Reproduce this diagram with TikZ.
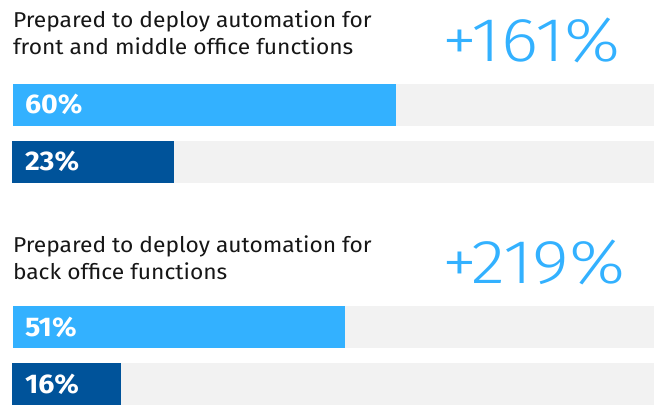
\documentclass[tikz,border=0pt]{standalone}
\usepackage{fontspec}
\setmainfont[FakeStretch=1.06]{Fira Sans}
\newfontfamily\lightnum[FakeStretch=1.14]{Fira Sans Light}
\usetikzlibrary{positioning}

\definecolor{barcyan}{HTML}{33B1FF}
\definecolor{bardark}{HTML}{00539A}
\definecolor{trackgray}{HTML}{F2F2F2}
\definecolor{inkgray}{HTML}{161616}

\begin{document}
\begin{tikzpicture}[x=1pt, y=-1pt,
  every node/.style={inner sep=0pt, outer sep=0pt},
  track/.style ={fill=trackgray, anchor=north west,
                 minimum width=641pt, minimum height=42pt},
  bar/.style   ={anchor=north west, minimum height=42pt},
  barlbl/.style={anchor=west, text=white,
                 font=\fontsize{27}{27}\selectfont\bfseries},
  head/.style  ={anchor=base west, align=left, text=inkgray,
                 font=\fontsize{21.5}{27}\selectfont},
  gain/.style  ={anchor=base west, text=barcyan,
                 font=\fontsize{62}{62}\selectfont\lightnum}]
\useasboundingbox (0,0) rectangle (654,405);

%% ── Block 1: front and middle office ────────────────────────────
% base of a two-line node sits on its last line
\node[head] (headfront) at (13,54.3)
  {Prepared to deploy automation for\\front and middle office functions};
\node[gain] (gainfront) at (442,61) {+161\%};

\node[track] (trackA) at (13,83.5) {};
\node[bar, fill=barcyan, minimum width=383pt] (barA) at (13,83.5) {};
\node[barlbl] (lblA) at ([xshift=12pt]barA.west) {60\%};

\node[track] (trackB) at (13,140.5) {};
\node[bar, fill=bardark, minimum width=162pt] (barB) at (12,140.5) {};
\node[barlbl] (lblB) at ([xshift=13pt]barB.west) {23\%};

%% ── Block 2: back office ────────────────────────────────────────
\node[head] (headback) at (13,279.3)
  {Prepared to deploy automation for\\back office functions};
\node[gain] (gainback) at (442,283) {+219\%};

\node[track] (trackC) at (13,306) {};
\node[bar, fill=barcyan, minimum width=332pt] (barC) at (13,306) {};
\node[barlbl] (lblC) at ([xshift=12pt]barC.west) {51\%};

\node[track] (trackD) at (13,363) {};
\node[bar, fill=bardark, minimum width=109pt] (barD) at (12,363) {};
\node[barlbl] (lblD) at ([xshift=13pt]barD.west) {16\%};
\end{tikzpicture}
\end{document}
